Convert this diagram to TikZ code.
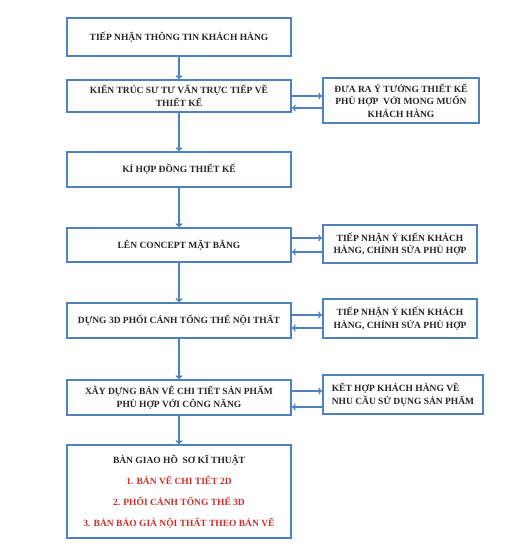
\documentclass[tikz,border=0pt]{standalone}
\usepackage{fontspec}
\setmainfont{Liberation Serif}
\usetikzlibrary{arrows.meta}

\begin{document}
\begin{tikzpicture}[x=1pt, y=-1pt, font=\fontsize{9.5}{12.5}\selectfont\bfseries]

\definecolor{cLine}{HTML}{4F81BD}
\definecolor{cRed}{HTML}{C8302C}
\colorlet{cText}{black!85}

\tikzset{
  mainbox/.style = {draw=cLine, line width=1.6pt, minimum width=224pt, align=center, inner sep=2pt, text=cText},
  sidebox/.style = {draw=cLine, line width=1.6pt, align=center, inner sep=2pt, text=cText},
  flow/.style    = {cLine, line width=1.5pt, -{To[length=4pt,width=7pt]}},
  back/.style    = {cLine, line width=1.1pt, -{To[length=4pt,width=7pt]}},
}

\useasboundingbox (0,0) rectangle (524,546);

%% ---------- main column ----------
\node[mainbox, minimum height=38pt] (recv)     at (179,37)    {TIẾP NHẬN THÔNG TIN KHÁCH HÀNG};
\node[mainbox, minimum height=32pt] (consult)  at (179,96)    {KIẾN TRÚC SƯ TƯ VẤN TRỰC TIẾP VỀ\\THIẾT KẾ};
\node[mainbox, minimum height=35pt] (contract) at (179,169.5) {KÍ HỢP ĐỒNG THIẾT KẾ};
\node[mainbox, minimum height=34pt] (concept)  at (179,245)   {LÊN CONCEPT MẶT BẰNG};
\node[mainbox, minimum height=35pt] (render)   at (179,320.5) {DỰNG 3D PHỐI CẢNH TỔNG THỂ NỘI THẤT};
\node[mainbox, minimum height=35pt] (detail)   at (179,397.5) {XÂY DỰNG BẢN VẼ CHI TIẾT SẢN PHẨM\\PHÙ HỢP VỚI CÔNG NĂNG};
\node[mainbox, minimum height=93pt, font=\fontsize{9.5}{21}\selectfont\bfseries] (handover) at (179,491.5)
  {BÀN GIAO HỒ\ \ SƠ KĨ THUẬT\\
   \textcolor{cRed}{1. BẢN VẼ CHI TIẾT 2D}\\
   \textcolor{cRed}{2. PHỐI CẢNH TỔNG THỂ 3D}\\
   \textcolor{cRed}{3. BẢN BÁO GIÁ NỘI THẤT THEO BẢN VẼ}};

%% ---------- feedback boxes, right ----------
\node[sidebox, minimum width=156pt, minimum height=45pt] (idea) at (401,100.5)
  {ĐƯA RA Ý TƯỞNG THIẾT KẾ\\PHÙ HỢP\ \ VỚI MONG MUỐN\\KHÁCH HÀNG};
\node[sidebox, minimum width=154pt, minimum height=38pt] (fbplan) at (400,244)
  {TIẾP NHẬN Ý KIẾN KHÁCH\\HÀNG, CHỈNH SỬA PHÙ HỢP};
\node[sidebox, minimum width=154pt, minimum height=39pt] (fbview) at (400,318.5)
  {TIẾP NHẬN Ý KIẾN KHÁCH\\HÀNG, CHỈNH SỬA PHÙ HỢP};
\node[sidebox, minimum width=160pt, minimum height=39pt, align=left] (combine) at (403,394.5)
  {KẾT HỢP KHÁCH HÀNG VỀ\\NHU CẦU SỬ DỤNG SẢN PHẨM};

%% ---------- the flow ----------
\draw[flow] (recv.south)     -- (consult.north);
\draw[flow] (consult.south)  -- (contract.north);
\draw[flow] (contract.south) -- (concept.north);
\draw[flow] (concept.south)  -- (render.north);
\draw[flow] (render.south)   -- (detail.north);
\draw[flow] (detail.south)   -- (handover.north);

%% ---------- there and back ----------
\draw[back] (consult.east) -- ([yshift=4.5pt]idea.west);
\draw[back] ([yshift=-7.5pt]idea.west) -- ([yshift=-12pt]consult.east);
\draw[back] ([yshift=7pt]concept.east) -- ([yshift=6pt]fbplan.west);
\draw[back] ([yshift=-8pt]fbplan.west) -- ([yshift=-7pt]concept.east);
\draw[back] ([yshift=5.5pt]render.east) -- ([yshift=3.5pt]fbview.west);
\draw[back] ([yshift=-9.5pt]fbview.west) -- ([yshift=-7.5pt]render.east);
\draw[back] ([yshift=6.5pt]detail.east) -- ([yshift=3.5pt]combine.west);
\draw[back] ([yshift=-12.5pt]combine.west) -- ([yshift=-9.5pt]detail.east);

\end{tikzpicture}
\end{document}
